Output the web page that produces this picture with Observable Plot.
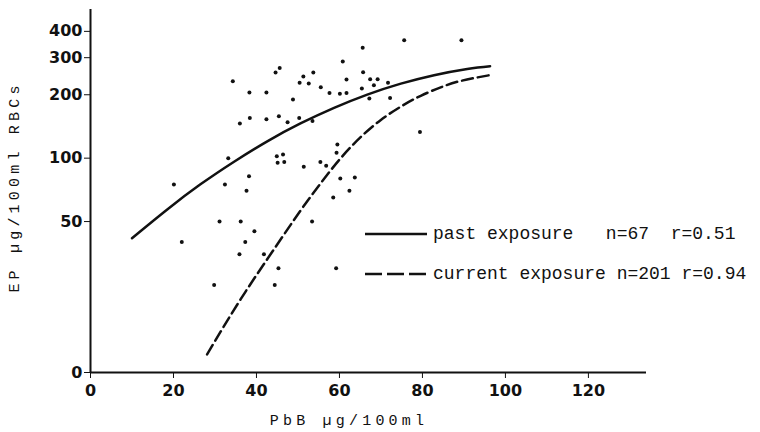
<!DOCTYPE html>
<html><head><meta charset="utf-8">
<script src="https://cdn.jsdelivr.net/npm/d3@7"></script>
<script src="https://cdn.jsdelivr.net/npm/@observablehq/plot@0.6"></script>
<style>
body{margin:0;background:#fff;}
#wrap{position:relative;width:760px;height:432px;}
#overlay{position:absolute;left:0;top:0;pointer-events:none;}
</style></head><body><div id="wrap"></div>
<script>
// scatter points (PbB µg/100ml, EP µg/100ml RBCs)
const pointPbB = [20.1,22.0,29.8,31.1,32.4,33.2,34.3,36.0,35.9,36.2,37.3,37.6,38.2,38.3,38.4,39.5,41.8,42.4,42.4,44.4,44.6,44.9,45.1,45.3,45.4,45.6,46.4,46.7,47.5,48.8,50.3,50.4,51.3,51.4,52.6,53.4,53.5,53.7,55.4,55.5,56.8,57.6,58.5,59.2,59.3,59.5,60.1,60.2,60.8,61.7,61.7,62.4,63.7,65.4,65.6,65.7,67.2,67.4,68.3,69.2,71.7,72.2,75.6,79.4,89.4];
const pointEP = [75,40,25,50,75,100,232,146,35,50,40,70,82,205,155,45,35,205,153,25,255,102,95,30,158,268,104,96,148,190,155,228,244,91,226,50,150,255,96,217,92,204,65,30,106,116,202,80,288,236,204,70,81,214,334,256,192,237,222,237,228,193,363,133,363];
// regression curve: past exposure
const pastPbB = [10.0,18.5,26.5,34.6,42.6,50.6,58.7,66.7,74.8,82.8,90.8,96.3];
const pastEP = [41.7,57.1,75.1,96.2,120.2,146.1,173.3,200.4,225.8,247.8,265.2,273.4];
// regression curve: current exposure
const currentPbB = [28.1,36.2,44.6,50.6,55.5,60.3,65.1,69.9,74.8,79.6,84.4,89.2,96.3];
const currentEP = [11.7,21.4,37.9,56.3,76.1,100,125.8,151.5,175.8,197.8,216.9,232.6,248];
// axes
const xTicks = [0,20,40,60,80,100,120];
const zeroLevel = 9.6; // value drawn where the broken log axis is labelled "0"
const yTicks = [zeroLevel,50,100,200,300,400];
const yTickLabels = ["0","50","100","200","300","400"];
const xMax = 134, yMax = 508;

const points = pointPbB.map((x,i)=>({x, y: pointEP[i]}));
const past = pastPbB.map((x,i)=>({x, y: pastEP[i]}));
const current = currentPbB.map((x,i)=>({x, y: currentEP[i]}));

const chart = Plot.plot({
  width: 760, height: 432,
  marginLeft: 90, marginRight: 114, marginTop: 9, marginBottom: 60,
  style: {fontFamily: "DejaVu Sans", fontWeight: "bold", fontSize: "16px", background: "white", color: "#111", overflow: "visible"},
  x: {domain: [0, xMax], ticks: xTicks, tickSize: 6, tickPadding: 6, label: null},
  y: {type: "log", domain: [zeroLevel, yMax], ticks: yTicks, tickFormat: d => yTickLabels[yTicks.indexOf(d)], tickSize: 6, tickPadding: 2, label: null},
  marks: [
    Plot.ruleX([0], {y1: zeroLevel, y2: yMax, stroke: "#111", strokeWidth: 2}),
    Plot.ruleY([zeroLevel], {x1: 0, x2: xMax, stroke: "#111", strokeWidth: 2}),
    Plot.line(past, {x: "x", y: "y", curve: "natural", stroke: "#111", strokeWidth: 2.5}),
    Plot.line(current, {x: "x", y: "y", curve: "natural", stroke: "#111", strokeWidth: 2.5, strokeDasharray: "11,5"}),
    Plot.dot(points, {x: "x", y: "y", r: 2, fill: "#111", stroke: "none"})
  ]
});
const wrap = document.getElementById("wrap");
wrap.appendChild(chart);

const ov = `<svg id="overlay" width="760" height="432" font-family="Liberation Mono" fill="#111">
  <text transform="translate(19,187) rotate(-90)" text-anchor="middle" font-size="15" letter-spacing="4.2">EP µg/100ml RBCs</text>
  <text x="349" y="425" text-anchor="middle" font-size="15" letter-spacing="4.2">PbB µg/100ml</text>
  <line x1="365" x2="427" y1="234" y2="234" stroke="#111" stroke-width="2.5"/>
  <text x="433" y="239" font-size="18" xml:space="preserve" style="white-space:pre">past exposure   n=67  r=0.51</text>
  <line x1="365" x2="427" y1="274" y2="274" stroke="#111" stroke-width="2.5" stroke-dasharray="17,5"/>
  <text x="433" y="279" font-size="18" xml:space="preserve" style="white-space:pre">current exposure n=201 r=0.94</text>
</svg>`;
wrap.insertAdjacentHTML("beforeend", ov);
</script></body></html>
